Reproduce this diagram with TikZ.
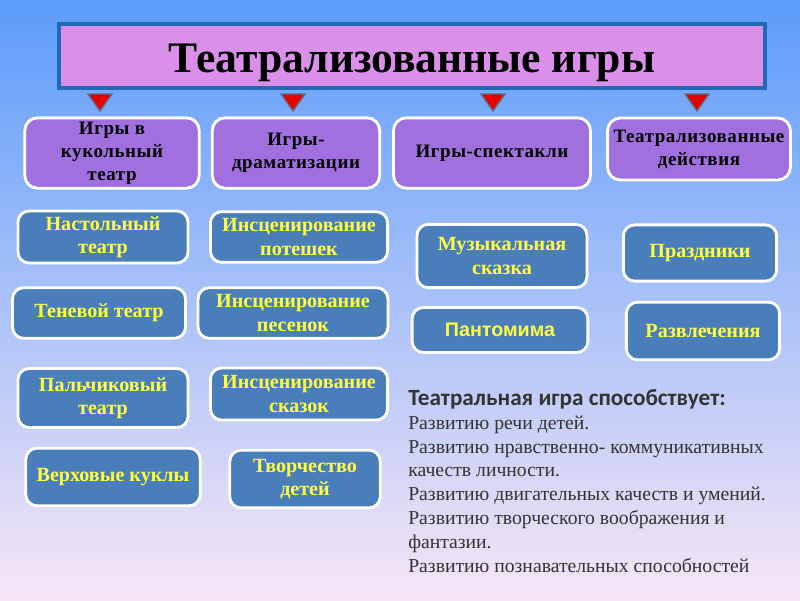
\documentclass[tikz,border=0pt]{standalone}
\usepackage{fontspec}
\setmainfont{Liberation Serif}
\newfontfamily\headsans{Carlito}
\newfontfamily\boxsans{Liberation Sans}
\newfontfamily\kindserif[LetterSpace=3]{Liberation Serif}
\usetikzlibrary{positioning}

\definecolor{bgtop}{RGB}{92,156,250}
\definecolor{bgmid}{RGB}{150,196,248}
\definecolor{bgbot}{RGB}{246,230,246}
\definecolor{titlefill}{RGB}{218,143,232}
\definecolor{titleline}{RGB}{30,106,181}
\definecolor{kindfill}{RGB}{160,112,222}
\definecolor{itemfill}{RGB}{74,126,187}
\definecolor{itemtext}{RGB}{255,255,64}
\definecolor{marker}{RGB}{232,0,0}
\definecolor{markerline}{RGB}{96,110,132}

\tikzset{
  titlebox/.style={draw=titleline, line width=3pt, fill=titlefill, minimum width=502pt, minimum height=45pt,
    text height=23pt, text depth=0pt, font=\fontsize{31}{33}\selectfont\bfseries},
  kindbox/.style={draw=white, line width=2pt, fill=kindfill, rounded corners=9pt, align=center,
    font=\kindserif\fontsize{13.5}{16.4}\selectfont\bfseries, inner sep=1pt},
  itembox/.style={draw=white, line width=2pt, fill=itemfill, rounded corners=8pt, align=center,
    text=itemtext, font=\fontsize{14.3}{16.4}\selectfont\bfseries, inner sep=1pt},
}

\begin{document}
\begin{tikzpicture}[x=0.025cm, y=-0.025cm]
    \shade[top color=bgtop, middle color=bgmid, bottom color=bgbot] (0,0) rectangle (800,600);

    \node[titlebox] (title) at (412,56) {Театрализованные игры};

    % red markers under the title
    \foreach \x in {100,293,493,697}
        \filldraw[fill=marker, draw=markerline, line width=1pt] (\x-12,94) -- (\x+12,94) -- (\x,111) -- cycle;

    \node[kindbox, minimum width=124pt, minimum height=50pt] (puppet) at (112,153) {Игры в\\кукольный\\театр};
    \node[kindbox, minimum width=119pt, minimum height=50pt] (drama) at (296,153) {Игры-\\драматизации};
    \node[kindbox, minimum width=140pt, minimum height=50pt] (show) at (492,153) {Игры-спектакли};
    \node[kindbox, minimum width=130pt, minimum height=44pt] (action) at (699,149) {Театрализованные\\действия};

    \node[itembox, minimum width=121pt, minimum height=37pt] (tabletop) at (103,237) {Настольный\\театр};
    \node[itembox, minimum width=123pt, minimum height=36pt] (shadow) at (99,313) {Теневой театр};
    \node[itembox, minimum width=121pt, minimum height=42pt] (finger) at (103,398) {Пальчиковый\\театр};
    \node[itembox, minimum width=124pt, minimum height=41pt] (rod) at (113,477) {Верховые куклы};

    \node[itembox, minimum width=126pt, minimum height=36pt] (rhymes) at (299,237) {Инсценирование\\потешек};
    \node[itembox, minimum width=135pt, minimum height=36pt] (songs) at (293,313) {Инсценирование\\песенок};
    \node[itembox, minimum width=126pt, minimum height=37pt] (tales) at (299,394) {Инсценирование\\сказок};
    \node[itembox, minimum width=107pt, minimum height=41pt] (creative) at (305,479) {Творчество\\детей};

    \node[itembox, minimum width=121pt, minimum height=45pt] (musical) at (502,256) {Музыкальная\\сказка};
    \node[itembox, minimum width=125pt, minimum height=32pt, font=\boxsans\fontsize{14}{16}\selectfont\bfseries] (mime) at (500,330) {Пантомима};
    \node[itembox, minimum width=109pt, minimum height=40pt] (holidays) at (700,253) {Праздники};
    \node[itembox, minimum width=109pt, minimum height=41pt] (fun) at (703,331) {Развлечения};

    \node[anchor=north west, align=left, text=black!80, inner sep=0pt, font=\fontsize{14}{17}\selectfont] (benefits) at (408,389)
        {{\headsans\bfseries\fontsize{16.5}{17}\selectfont Театральная игра способствует:}\\
         Развитию речи детей.\\
         Развитию нравственно- коммуникативных\\
         качеств личности.\\
         Развитию двигательных качеств и умений.\\
         Развитию творческого воображения и\\
         фантазии.\\
         Развитию познавательных способностей};
\end{tikzpicture}
\end{document}
